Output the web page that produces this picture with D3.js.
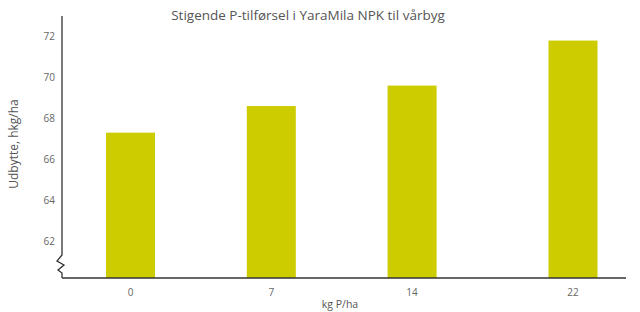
<!DOCTYPE html>
<html>
<head>
<meta charset="utf-8">
<script src="https://cdn.jsdelivr.net/npm/d3@7"></script>
<style>
	body { margin: 0; background: #fff; }
	svg { font-family: 'Open Sans', sans-serif; }
</style>
</head>
<body>
<div id="chart"></div>
<script>
// data
var doses = [0, 7, 14, 22];
var yields = [67.3, 68.6, 69.6, 71.8];
var yTicks = [62, 64, 66, 68, 70, 72];

var width = 640, height = 312;
var axisX = 62, axisY = 278, axisTop = 16, axisRight = 626;
var barWidth = 49;

var svg = d3.select('#chart').append('svg')
		.attr('width', width)
		.attr('height', height);

var x = d3.scaleLinear().domain([0, 22]).range([130.5, 573]);
var y = d3.scaleLinear().domain([60.2, 73]).range([axisY, axisTop]);

// bars
svg.selectAll('.bar').data(doses).enter().append('rect')
	.attr('class', 'bar')
	.style('fill', '#cccc00')
	.attr('x', function(d) {return x(d) - barWidth / 2;})
	.attr('width', barWidth)
	.attr('y', function(d, i) {return y(yields[i]);})
	.attr('height', function(d, i) {return axisY - y(yields[i]);});

// y axis with the break zigzag near the bottom
svg.append('path')
	.attr('d', 'M' + axisX + ',' + axisTop + 'V255 L57,261 L64,265 L58,270 L' + axisX + ',273 V' + axisY)
	.style('fill', 'none')
	.style('stroke', '#333')
	.style('stroke-width', 1.3);

// x axis
svg.append('line')
	.attr('x1', axisX).attr('x2', axisRight)
	.attr('y1', axisY).attr('y2', axisY)
	.style('stroke', '#333')
	.style('stroke-width', 1.3);

svg.selectAll('.ytick').data(yTicks).enter().append('text')
	.attr('class', 'ytick')
	.attr('x', 55)
	.attr('y', function(d) {return y(d);})
	.attr('dy', '0.35em')
	.attr('text-anchor', 'end')
	.style('fill', '#666')
	.style('font-size', '10px')
	.text(function(d) {return d;});

svg.selectAll('.xtick').data(doses).enter().append('text')
	.attr('class', 'xtick')
	.attr('x', function(d) {return x(d);})
	.attr('y', 296)
	.attr('text-anchor', 'middle')
	.style('fill', '#666')
	.style('font-size', '10px')
	.text(function(d) {return d;});

// titles
svg.append('text')
	.attr('x', 308)
	.attr('y', 20)
	.attr('text-anchor', 'middle')
	.style('fill', '#555')
	.style('font-size', '13.5px')
	.text('Stigende P-tilførsel i YaraMila NPK til vårbyg');

svg.append('text')
	.attr('transform', 'translate(18,144) rotate(-90)')
	.attr('text-anchor', 'middle')
	.style('fill', '#555')
	.style('font-size', '12px')
	.text('Udbytte, hkg/ha');

svg.append('text')
	.attr('x', 340)
	.attr('y', 308)
	.attr('text-anchor', 'middle')
	.style('fill', '#555')
	.style('font-size', '10.5px')
	.text('kg P/ha');
</script>
</body>
</html>
